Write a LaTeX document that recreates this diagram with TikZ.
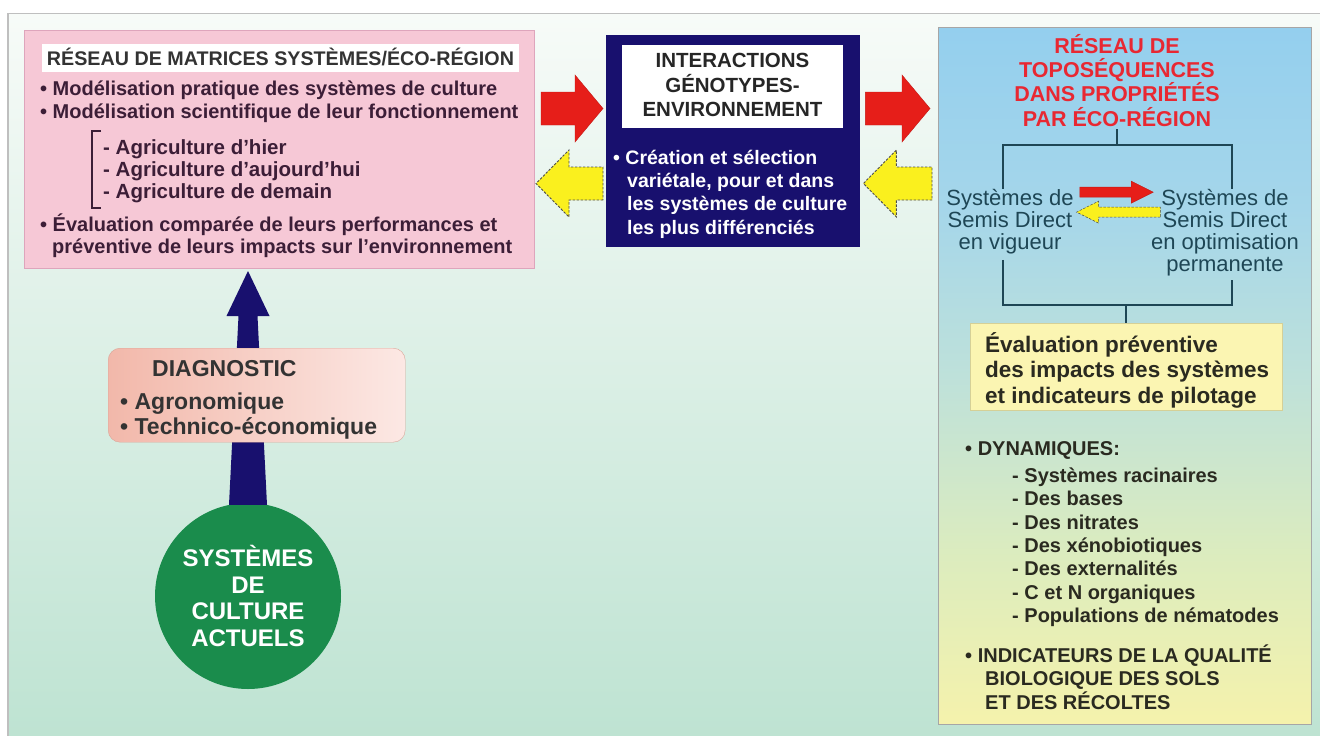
\documentclass[tikz,border=0pt]{standalone}
\usepackage{fontspec}
\setmainfont{Liberation Sans}
\usetikzlibrary{calc}
\definecolor{navy}{RGB}{24,16,110}
\definecolor{pinkbox}{RGB}{246,200,214}
\definecolor{pinkedge}{RGB}{222,165,188}
\definecolor{arred}{RGB}{230,30,25}
\definecolor{aryel}{RGB}{250,240,30}
\definecolor{bgtop}{RGB}{247,251,248}
\definecolor{bgbot}{RGB}{190,227,210}
\definecolor{circg}{RGB}{26,140,76}
\definecolor{pinktxt}{RGB}{60,30,55}
\definecolor{tealtxt}{RGB}{30,70,85}
\definecolor{redtxt}{RGB}{232,40,50}
\definecolor{yelbox}{RGB}{251,245,178}
\definecolor{salmon}{RGB}{242,184,170}
\definecolor{salmonl}{RGB}{252,232,228}
\definecolor{darktxt}{RGB}{42,42,32}
\pgfdeclareverticalshading{rshade}{100bp}{color(0bp)=(rgb,255:red,245;green,242;blue,172); color(25bp)=(rgb,255:red,245;green,242;blue,172); color(37bp)=(rgb,255:red,220;green,236;blue,190); color(50bp)=(rgb,255:red,190;green,225;blue,218); color(62bp)=(rgb,255:red,165;green,214;blue,234); color(75bp)=(rgb,255:red,148;green,207;blue,238); color(100bp)=(rgb,255:red,148;green,207;blue,238)}
\newcommand\fatarrow[6]{%
  \coordinate (faT) at #2; \coordinate (faH) at #3;
  \coordinate (faB) at ($(faH)!#6!(faT)$);
  \draw[#1] ($(faT)!#4!90:(faH)$) -- ($(faB)!#4!-90:(faT)$) -- ($(faB)!#5!-90:(faT)$) -- (faH) -- ($(faB)!#5!90:(faT)$) -- ($(faB)!#4!90:(faT)$) -- ($(faT)!#4!-90:(faH)$) -- cycle;}
\tikzset{
  txt/.style={inner sep=0pt, anchor=base west},
  ctxt/.style={inner sep=0pt, anchor=base},
  pinkline/.style={txt, font=\bfseries\fontsize{20}{23}\selectfont, text=pinktxt},
  agri/.style={txt, font=\bfseries\fontsize{20.5}{23}\selectfont, text=pinktxt},
  navyline/.style={txt, font=\bfseries\fontsize{19.5}{23}\selectfont, text=white},
  navytitle/.style={ctxt, font=\bfseries\fontsize{20.5}{23}\selectfont, text=black!85},
  redtitle/.style={ctxt, font=\bfseries\fontsize{21.5}{24}\selectfont, text=redtxt},
  sdline/.style={ctxt, font=\fontsize{22}{22}\selectfont, text=tealtxt},
  yline/.style={txt, font=\bfseries\fontsize{22.5}{25}\selectfont, text=darktxt},
  dline/.style={txt, font=\bfseries\fontsize{20}{23}\selectfont, text=darktxt},
  diagline/.style={txt, font=\bfseries\fontsize{23}{25}\selectfont, text=black!80},
  circline/.style={ctxt, font=\bfseries\fontsize{24}{27}\selectfont, text=white},
  tree/.style={draw=tealtxt, line width=1.6pt},
  redarr/.style={fill=arred, draw=arred!85!black, line width=0.4pt},
  yelarr/.style={fill=aryel, draw=black!70, line width=0.9pt, dash pattern=on 2.5pt off 1.5pt},
}
\begin{document}
\begin{tikzpicture}[x=1pt, y=-1pt]
\useasboundingbox (0,0) rectangle (1320,736);
% background
\fill[white] (0,0) rectangle (1320,736);
\shade[top color=bgtop, bottom color=bgbot] (8,13) rectangle (1320,736);
\draw[black!25, line width=1.2pt] (8,736) -- (8,13.6) -- (1320,13.6);

% left pink box
\node[draw=pinkedge, line width=1pt, fill=pinkbox, minimum width=510pt, minimum height=238pt, anchor=north west, inner sep=0pt] (pink) at (24,30) {};
\node[fill=white, minimum width=477pt, minimum height=28pt, anchor=north west, inner sep=0pt] (ptbox) at (42,44) {};
\node[ctxt, font=\bfseries\fontsize{19.7}{22}\selectfont, text=black!80] (ptitle) at (280.5,65) {RÉSEAU DE MATRICES SYSTÈMES/ÉCO-RÉGION};
\node[pinkline] (pl1) at (40,95) {• Modélisation pratique des systèmes de culture};
\node[pinkline] (pl2) at (40,118) {• Modélisation scientifique de leur fonctionnement};
\node[agri] (ag1) at (103,154) {- Agriculture d'hier};
\node[agri] (ag2) at (103,176) {- Agriculture d'aujourd'hui};
\node[agri] (ag3) at (103,198) {- Agriculture de demain};
\draw[pinktxt, line width=1.8pt] (101,131) -- (92,131) -- (92,208) -- (101,208);
\node[pinkline] (pl3) at (40,231) {• Évaluation comparée de leurs performances et};
\node[pinkline] (pl4) at (52,253) {préventive de leurs impacts sur l'environnement};

% middle navy box
\node[fill=navy, minimum width=254pt, minimum height=212pt, anchor=north west, inner sep=0pt] (navy) at (606,35) {};
\node[fill=white, minimum width=221pt, minimum height=83pt, anchor=north west, inner sep=0pt] (ntbox) at (622,45) {};
\node[navytitle] (nt1) at (732.5,67) {INTERACTIONS};
\node[navytitle] (nt2) at (732.5,92) {GÉNOTYPES-};
\node[navytitle] (nt3) at (732.5,116) {ENVIRONNEMENT};
\node[navyline] (nl1) at (613,164) {• Création et sélection};
\node[navyline] (nl2) at (627,187) {variétale, pour et dans};
\node[navyline] (nl3) at (627,210) {les systèmes de culture};
\node[navyline] (nl4) at (627,234) {les plus différenciés};

% right box
\node[draw=black!35, line width=0.8pt, shading=rshade, minimum width=373pt, minimum height=697pt, anchor=north west, inner sep=0pt] (rbox) at (938,27) {};
\node[redtitle] (rt1) at (1117,53) {RÉSEAU DE};
\node[redtitle] (rt2) at (1117,77) {TOPOSÉQUENCES};
\node[redtitle] (rt3) at (1117,101) {DANS PROPRIÉTÉS};
\node[redtitle] (rt4) at (1117,126) {PAR ÉCO-RÉGION};
\node[sdline] (sa1) at (1010,205) {Systèmes de};
\node[sdline] (sa2) at (1010,227) {Semis Direct};
\node[sdline] (sa3) at (1010,249) {en vigueur};
\node[sdline] (sb1) at (1225,205) {Systèmes de};
\node[sdline] (sb2) at (1225,227) {Semis Direct};
\node[sdline] (sb3) at (1225,249) {en optimisation};
\node[sdline] (sb4) at (1225,271) {permanente};
\coordinate (tl) at (1003,145);
\coordinate (tr) at (1232,145);
\coordinate (bl) at (1003,305);
\coordinate (br) at (1232,305);
\draw[tree] ($(rt4.south)+(0,3)$) -- (rt4.south |- tl);
\draw[tree] (tl |- sa1.north) -- (tl) -- (tr) -- (tr |- sb1.north);
\draw[tree] ($(sa3.south -| bl)+(0,6)$) -- (bl) -- (br) -- ($(sb4.south -| br)+(0,4)$);
\node[fill=yelbox, draw=yelbox!85!black, line width=0.4pt, minimum width=312pt, minimum height=87pt, anchor=north west, inner sep=0pt] (ybox) at (970,323) {};
\draw[tree] (ybox.north |- bl) -- (ybox.north);
\fatarrow{redarr}{($(sa1.east)+(6,-7)$)}{($(sb1.west)+(-8,-7)$)}{5pt}{11pt}{22pt}
\fatarrow{yelarr, line width=0.5pt}{($(sb2.west)+(-2,-7)$)}{($(sa2.east)+(4,-7)$)}{5pt}{11pt}{22pt}
\node[yline] (yl1) at (985,352) {Évaluation préventive};
\node[yline] (yl2) at (985,377) {des impacts des systèmes};
\node[yline] (yl3) at (985,403) {et indicateurs de pilotage};
\node[dline] (dy0) at (965,455) {• DYNAMIQUES:};
\node[dline] (dy1) at (1012,482) {- Systèmes racinaires};
\node[dline] (dy2) at (1012,505) {- Des bases};
\node[dline] (dy3) at (1012,529) {- Des nitrates};
\node[dline] (dy4) at (1012,552) {- Des xénobiotiques};
\node[dline] (dy5) at (1012,575) {- Des externalités};
\node[dline] (dy6) at (1012,599) {- C et N organiques};
\node[dline] (dy7) at (1012,622) {- Populations de nématodes};
\node[dline] (iq1) at (965,662) {• INDICATEURS DE LA QUALITÉ};
\node[dline] (iq2) at (985,685) {BIOLOGIQUE DES SOLS};
\node[dline] (iq3) at (985,709) {ET DES RÉCOLTES};

% arrows between top boxes
\coordinate (ry) at (0,108.5);
\coordinate (yy) at (0,183.5);
\fatarrow{redarr}{($(pink.east |- ry)+(6,0)$)}{($(navy.west |- ry)+(-3,0)$)}{16.5pt}{33.5pt}{28pt}
\fatarrow{yelarr}{($(navy.west |- yy)+(-3,0)$)}{($(pink.east |- yy)+(1,0)$)}{16.5pt}{33.5pt}{33pt}
\fatarrow{redarr}{($(navy.east |- ry)+(5,0)$)}{($(rbox.west |- ry)+(-8,0)$)}{16.5pt}{33.5pt}{28pt}
\fatarrow{yelarr}{($(rbox.west |- yy)+(-6,0)$)}{($(navy.east |- yy)+(3,0)$)}{16.5pt}{33.5pt}{33pt}

% circle, tapered arrow, diagnostic
\node[circle, fill=circg, minimum size=186pt, inner sep=0pt] (circ) at (248,596) {};
\node[circline] (c1) at (248,566) {SYSTÈMES};
\node[circline] (c2) at (248,593) {DE};
\node[circline] (c3) at (248,619) {CULTURE};
\node[circline] (c4) at (248,646) {ACTUELS};
\coordinate (ua) at ($(circ.north)+(0,2)$);
\coordinate (ub) at ($(circ.north |- pink.south)+(0,2)$);
\fill[navy] ($(ua)+(-19,0)$) -- ($(ua)+(19,0)$) -- ($(ub)+(9.5,45)$) -- ($(ub)+(21.5,45)$) -- (ub) -- ($(ub)+(-21.5,45)$) -- ($(ub)+(-9.5,45)$) -- cycle;
\node[rounded corners=12pt, left color=salmon, right color=salmonl, draw=salmon!90!black, line width=0.4pt, minimum width=297pt, minimum height=94pt, anchor=north west, inner sep=0pt] (diag) at (108,348) {};
\node[diagline] (dg1) at (152,376) {DIAGNOSTIC};
\node[diagline] (dg2) at (120,409) {• Agronomique};
\node[diagline] (dg3) at (120,434) {• Technico-économique};
\end{tikzpicture}
\end{document}
